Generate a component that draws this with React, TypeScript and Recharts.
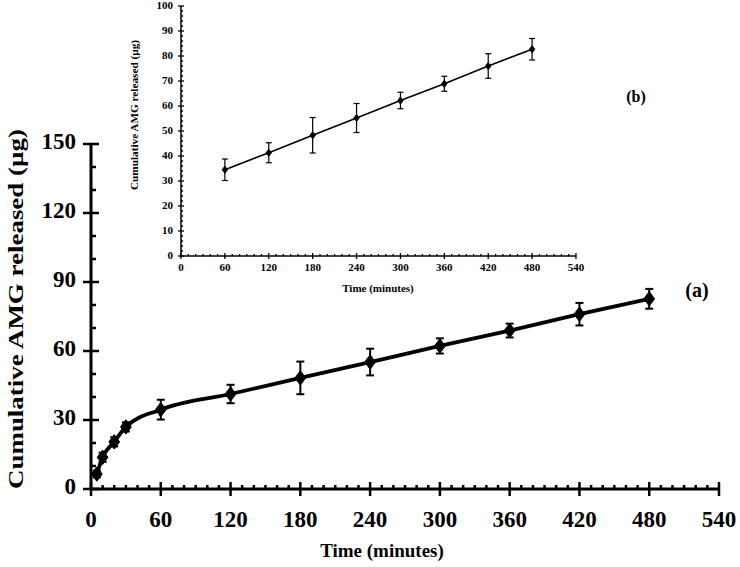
import React from 'react';
import { LineChart, Line, XAxis, YAxis, ErrorBar } from 'recharts';

const FONT = '"Liberation Serif", "Times New Roman", Times, serif';

// Main chart (a)
const timeMin = [5, 10, 20, 30, 60, 120, 180, 240, 300, 360, 420, 480];
const releasedUg = [6.5, 13.8, 20.5, 27.0, 34.5, 41.3, 48.3, 55.2, 62.2, 68.9, 76.0, 82.7];
const releasedSd = [1.5, 2.0, 2.0, 2.0, 4.3, 4.0, 7.1, 5.8, 3.3, 3.0, 4.9, 4.3];

// Inset chart (b)
const insetTimeMin = [60, 120, 180, 240, 300, 360, 420, 480];
const insetReleasedUg = [34.5, 41.3, 48.3, 55.2, 62.2, 68.9, 76.0, 82.7];
const insetReleasedSd = [4.3, 4.0, 7.1, 5.8, 3.3, 3.0, 4.9, 4.3];

// Tick labels
const mainXMajor = [0, 60, 120, 180, 240, 300, 360, 420, 480, 540];
const mainYMajor = [0, 30, 60, 90, 120, 150];
const insetXMajor = [0, 60, 120, 180, 240, 300, 360, 420, 480, 540];
const insetYMajor = [0, 10, 20, 30, 40, 50, 60, 70, 80, 90, 100];

const range = (max: number, step: number) => {
  const out: number[] = [];
  for (let v = 0; v <= max; v += step) out.push(v);
  return out;
};
const mainXTicks = range(540, 10);
const mainYTicks = range(150, 10);
const insetXTicks = range(540, 10);
const insetYTicks = range(100, 2);

const mainData = timeMin.map((t, i) => ({ t, v: releasedUg[i], e: releasedSd[i] }));
const insetData = insetTimeMin.map((t, i) => ({ t, v: insetReleasedUg[i], e: insetReleasedSd[i] }));

type TickOpts = { majors: number[]; up: number; down: number; minor: number; tw: number; fs: number; dy: number };

const makeXTick = (o: TickOpts) => (props: any) => {
  const { x, y, payload } = props;
  const v = payload.value;
  const isMajor = o.majors.includes(v);
  return (
    <g>
      {isMajor ? (
        <line x1={x} x2={x} y1={y - o.up} y2={y + o.down} stroke="#000" strokeWidth={o.tw} />
      ) : (
        <line x1={x} x2={x} y1={y} y2={y - o.minor} stroke="#000" strokeWidth={o.tw} />
      )}
      {isMajor && (
        <text x={x} y={y + o.dy} textAnchor="middle" dominantBaseline="middle" fontFamily={FONT} fontWeight="bold" fontSize={o.fs} fill="#000">
          {v}
        </text>
      )}
    </g>
  );
};

const makeYTick = (o: TickOpts) => (props: any) => {
  const { x, y, payload } = props;
  const v = payload.value;
  const isMajor = o.majors.includes(v);
  return (
    <g>
      {isMajor ? (
        <line x1={x - o.down} x2={x + o.up} y1={y} y2={y} stroke="#000" strokeWidth={o.tw} />
      ) : (
        <line x1={x} x2={x + o.minor} y1={y} y2={y} stroke="#000" strokeWidth={o.tw} />
      )}
      {isMajor && (
        <text x={x - o.dy} y={y} textAnchor="end" dominantBaseline="middle" fontFamily={FONT} fontWeight="bold" fontSize={o.fs} fill="#000">
          {v}
        </text>
      )}
    </g>
  );
};

const MainXTick = makeXTick({ majors: mainXMajor, up: 7, down: 7, minor: 4, tw: 2.5, fs: 23, dy: 33 });
const MainYTick = makeYTick({ majors: mainYMajor, up: 8, down: 8, minor: 5, tw: 2.5, fs: 23, dy: 15 });
const InsetXTick = makeXTick({ majors: insetXMajor, up: 3, down: 3, minor: 2, tw: 1.3, fs: 11, dy: 12 });
const InsetYTick = makeYTick({ majors: insetYMajor, up: 3, down: 3, minor: 2, tw: 1.3, fs: 11, dy: 8 });

const Diamond = (size: number) => (props: any) => {
  const { cx, cy, index } = props;
  if (cx == null || cy == null) return <g key={index} />;
  const w = size * 0.45;
  const h = size * 0.6;
  return (
    <polygon
      key={index}
      points={`${cx},${cy - h} ${cx + w},${cy} ${cx},${cy + h} ${cx - w},${cy}`}
      fill="#000"
      stroke="#000"
      strokeWidth={1}
    />
  );
};

const MainYTitle = () => (
  <text
    transform="translate(18,309) rotate(-90)"
    textAnchor="middle"
    dominantBaseline="middle"
    fontFamily={FONT}
    fontWeight="bold"
    fontSize={20}
    textLength={360}
    lengthAdjust="spacingAndGlyphs"
    fill="#000"
  >
    Cumulative AMG released (µg)
  </text>
);
const MainXTitle = () => (
  <text x={382} y={553} textAnchor="middle" dominantBaseline="middle" fontFamily={FONT} fontWeight="bold" fontSize={19} fill="#000">
    Time (minutes)
  </text>
);
const InsetYTitle = () => (
  <text
    transform="translate(15,115) rotate(-90)"
    textAnchor="middle"
    dominantBaseline="middle"
    fontFamily={FONT}
    fontWeight="bold"
    fontSize={11}
    textLength={150}
    lengthAdjust="spacingAndGlyphs"
    fill="#000"
  >
    Cumulative AMG released (µg)
  </text>
);
const InsetXTitle = () => (
  <text x={258} y={289} textAnchor="middle" dominantBaseline="middle" fontFamily={FONT} fontWeight="bold" fontSize={11} fill="#000">
    Time (minutes)
  </text>
);

export default function App() {
  return (
    <div style={{ position: 'absolute', left: 0, top: 0, width: 740, height: 567, background: '#fff' }}>
      <div style={{ position: 'absolute', left: 0, top: 0 }}>
        <LineChart width={740} height={567} data={mainData} margin={{ top: 144, right: 21, bottom: 18, left: 31 }}>
          <XAxis
            type="number"
            dataKey="t"
            domain={[0, 540]}
            ticks={mainXTicks}
            interval={0}
            tickSize={0}
            tickMargin={0}
            tickLine={false}
            tick={MainXTick}
            axisLine={{ stroke: '#000', strokeWidth: 3 }}
            height={60}
            label={<MainXTitle />}
          />
          <YAxis
            type="number"
            domain={[0, 150]}
            ticks={mainYTicks}
            interval={0}
            tickSize={0}
            tickMargin={0}
            tickLine={false}
            tick={MainYTick}
            axisLine={{ stroke: '#000', strokeWidth: 3 }}
            width={60}
            label={<MainYTitle />}
          />
          <Line
            type="monotone"
            dataKey="v"
            stroke="#000"
            strokeWidth={3.8}
            dot={Diamond(12)}
            activeDot={false}
            isAnimationActive={false}
          >
            <ErrorBar dataKey="e" direction="y" width={4} stroke="#000" strokeWidth={2} isAnimationActive={false} />
          </Line>
        </LineChart>
      </div>
      <div style={{ position: 'absolute', left: 120, top: 0 }}>
        <LineChart width={470} height={300} data={insetData} margin={{ top: 6, right: 14, bottom: 14, left: 31 }}>
          <XAxis
            type="number"
            dataKey="t"
            domain={[0, 540]}
            ticks={insetXTicks}
            interval={0}
            tickSize={0}
            tickMargin={0}
            tickLine={false}
            tick={InsetXTick}
            axisLine={{ stroke: '#000', strokeWidth: 1.5 }}
            height={30}
            label={<InsetXTitle />}
          />
          <YAxis
            type="number"
            domain={[0, 100]}
            ticks={insetYTicks}
            interval={0}
            tickSize={0}
            tickMargin={0}
            tickLine={false}
            tick={InsetYTick}
            axisLine={{ stroke: '#000', strokeWidth: 1.5 }}
            width={30}
            label={<InsetYTitle />}
          />
          <Line
            type="linear"
            dataKey="v"
            stroke="#000"
            strokeWidth={1.6}
            dot={Diamond(6)}
            activeDot={false}
            isAnimationActive={false}
          >
            <ErrorBar dataKey="e" direction="y" width={3} stroke="#000" strokeWidth={1.2} isAnimationActive={false} />
          </Line>
        </LineChart>
      </div>
      <svg width={740} height={567} style={{ position: 'absolute', left: 0, top: 0, pointerEvents: 'none' }}>
        <text x={697} y={292} textAnchor="middle" dominantBaseline="middle" fontFamily={FONT} fontWeight="bold" fontSize={20} fill="#000">
          (a)
        </text>
        <text x={636} y={98} textAnchor="middle" dominantBaseline="middle" fontFamily={FONT} fontWeight="bold" fontSize={16} fill="#000">
          (b)
        </text>
      </svg>
    </div>
  );
}
